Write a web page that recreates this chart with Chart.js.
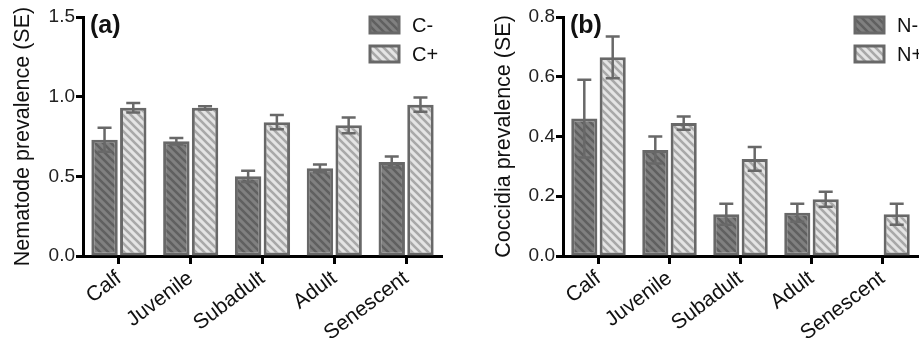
<!DOCTYPE html>
<html>
<head>
<meta charset="utf-8">
<script src="https://cdn.jsdelivr.net/npm/chart.js@4.4.0/dist/chart.umd.min.js"></script>
<style>
  body { margin: 0; background: #fff; }
  #wrap { position: relative; width: 919px; height: 338px; overflow: hidden; }
  canvas { position: absolute; top: 0; }
</style>
</head>
<body>
<div id="wrap">
  <canvas id="chartA" width="459" height="338" style="left:0"></canvas>
  <canvas id="chartB" width="459" height="338" style="left:460px"></canvas>
</div>
<script>
var categories = ['Calf', 'Juvenile', 'Subadult', 'Adult', 'Senescent'];

// panel (a) nematode prevalence
var nemaCminus = [0.73, 0.72, 0.50, 0.55, 0.59];
var nemaCminusSE = [0.075, 0.02, 0.035, 0.025, 0.035];
var nemaCplus = [0.93, 0.93, 0.84, 0.82, 0.95];
var nemaCplusSE = [0.03, 0.01, 0.045, 0.05, 0.045];

// panel (b) coccidia prevalence
var coccNminus = [0.46, 0.355, 0.14, 0.145, null];
var coccNminusSE = [0.13, 0.045, 0.035, 0.03, null];
var coccNplus = [0.665, 0.445, 0.325, 0.19, 0.14];
var coccNplusSE = [0.07, 0.022, 0.04, 0.025, 0.035];

Chart.defaults.font.family = "'Liberation Sans', Arial, sans-serif";
Chart.defaults.color = '#222';

function makePattern(bg, fg) {
    var c = document.createElement('canvas');
    c.width = 8; c.height = 8;
    var x = c.getContext('2d');
    x.fillStyle = bg;
    x.fillRect(0, 0, 8, 8);
    x.strokeStyle = fg;
    x.lineWidth = 2.6;
    x.beginPath();
    x.moveTo(-2, -2); x.lineTo(10, 10);
    x.moveTo(-2, 6); x.lineTo(2, 10);
    x.moveTo(6, -2); x.lineTo(10, 2);
    x.stroke();
    return x.createPattern(c, 'repeat');
}

var darkFill = makePattern('#808080', '#606060');
var lightFill = makePattern('#e4e4e4', '#a8a8a8');
var edge = '#686868';

// error bars drawn at each bar through the y scale
var errorBars = {
    id: 'errorBars',
    afterDatasetsDraw: function(chart) {
        var ctx = chart.ctx;
        var yScale = chart.scales.y;
        ctx.save();
        ctx.strokeStyle = edge;
        ctx.lineWidth = 2.5;
        chart.data.datasets.forEach(function(ds, i) {
            var meta = chart.getDatasetMeta(i);
            meta.data.forEach(function(bar, j) {
                var v = ds.data[j], se = ds.se[j];
                if (v == null || se == null) return;
                var top = yScale.getPixelForValue(v + se);
                var bot = yScale.getPixelForValue(v - se);
                ctx.beginPath();
                ctx.moveTo(bar.x, top); ctx.lineTo(bar.x, bot);
                ctx.moveTo(bar.x - 7, top); ctx.lineTo(bar.x + 7, top);
                ctx.moveTo(bar.x - 7, bot); ctx.lineTo(bar.x + 7, bot);
                ctx.stroke();
            });
        });
        ctx.restore();
    }
};

function extras(letter, legendX) {
    return {
        id: 'extras',
        afterDraw: function(chart) {
            var ctx = chart.ctx;
            ctx.save();
            ctx.fillStyle = '#111';
            ctx.font = "bold 25px 'Liberation Sans', Arial";
            ctx.textBaseline = 'top';
            ctx.fillText('(' + letter + ')', chart.chartArea.left + 7, 14);
            ctx.font = "20px 'Liberation Sans', Arial";
            ctx.textBaseline = 'middle';
            chart.data.datasets.forEach(function(ds, i) {
                var y = 17 + i * 29;
                ctx.fillStyle = ds.backgroundColor;
                ctx.fillRect(legendX, y, 29, 16);
                ctx.strokeStyle = edge;
                ctx.lineWidth = 3;
                ctx.strokeRect(legendX, y, 29, 16);
                ctx.fillStyle = '#111';
                ctx.fillText(ds.label, legendX + 42, y + 9);
            });
            ctx.restore();
        }
    };
}

function makeChart(id, sets, yTitle, yMax, yStep, axisW, titlePad, padRight, letter, legendX) {
    var datasets = sets.map(function(s, i) {
        return {
            label: s.label,
            data: s.data,
            se: s.se,
            backgroundColor: i === 0 ? darkFill : lightFill,
            borderColor: edge,
            borderWidth: 3,
            borderSkipped: false,
            categoryPercentage: 0.8,
            barPercentage: 0.92
        };
    });
    return new Chart(document.getElementById(id), {
        type: 'bar',
        data: { labels: categories, datasets: datasets },
        options: {
            responsive: false,
            animation: false,
            layout: { padding: { top: 17, right: padRight, bottom: 0, left: 0 } },
            plugins: { legend: { display: false }, tooltip: { enabled: false } },
            scales: {
                x: {
                    grid: { offset: false, drawOnChartArea: false, color: '#000', tickColor: '#000', tickWidth: 3, tickLength: 8 },
                    border: { display: true, color: '#000', width: 3 },
                    ticks: { minRotation: 37, maxRotation: 37, padding: 2, color: '#111', font: { size: 21 } },
                    afterFit: function(scale) { scale.height = 82; }
                },
                y: {
                    min: 0, max: yMax,
                    grid: { drawOnChartArea: false, color: '#000', tickColor: '#000', tickWidth: 3, tickLength: 7 },
                    border: { display: true, color: '#000', width: 3 },
                    ticks: {
                        stepSize: yStep, padding: 1, color: '#222', font: { size: 19 },
                        callback: function(v) { return v.toFixed(1); }
                    },
                    title: { display: true, text: yTitle, color: '#111', font: { size: 21.5 }, padding: { top: titlePad, bottom: 0 } },
                    afterFit: function(scale) { scale.width = axisW; }
                }
            }
        },
        plugins: [errorBars, extras(letter, legendX)]
    });
}

makeChart('chartA', [
    { label: 'C-', data: nemaCminus, se: nemaCminusSE },
    { label: 'C+', data: nemaCplus, se: nemaCplusSE }
], 'Nematode prevalence (SE)', 1.5, 0.5, 83, 10, 17, 'a', 370);

makeChart('chartB', [
    { label: 'N-', data: coccNminus, se: coccNminusSE },
    { label: 'N+', data: coccNplus, se: coccNplusSE }
], 'Coccidia prevalence (SE)', 0.8, 0.2, 103, 31, 1, 'b', 395);
</script>
</body>
</html>
